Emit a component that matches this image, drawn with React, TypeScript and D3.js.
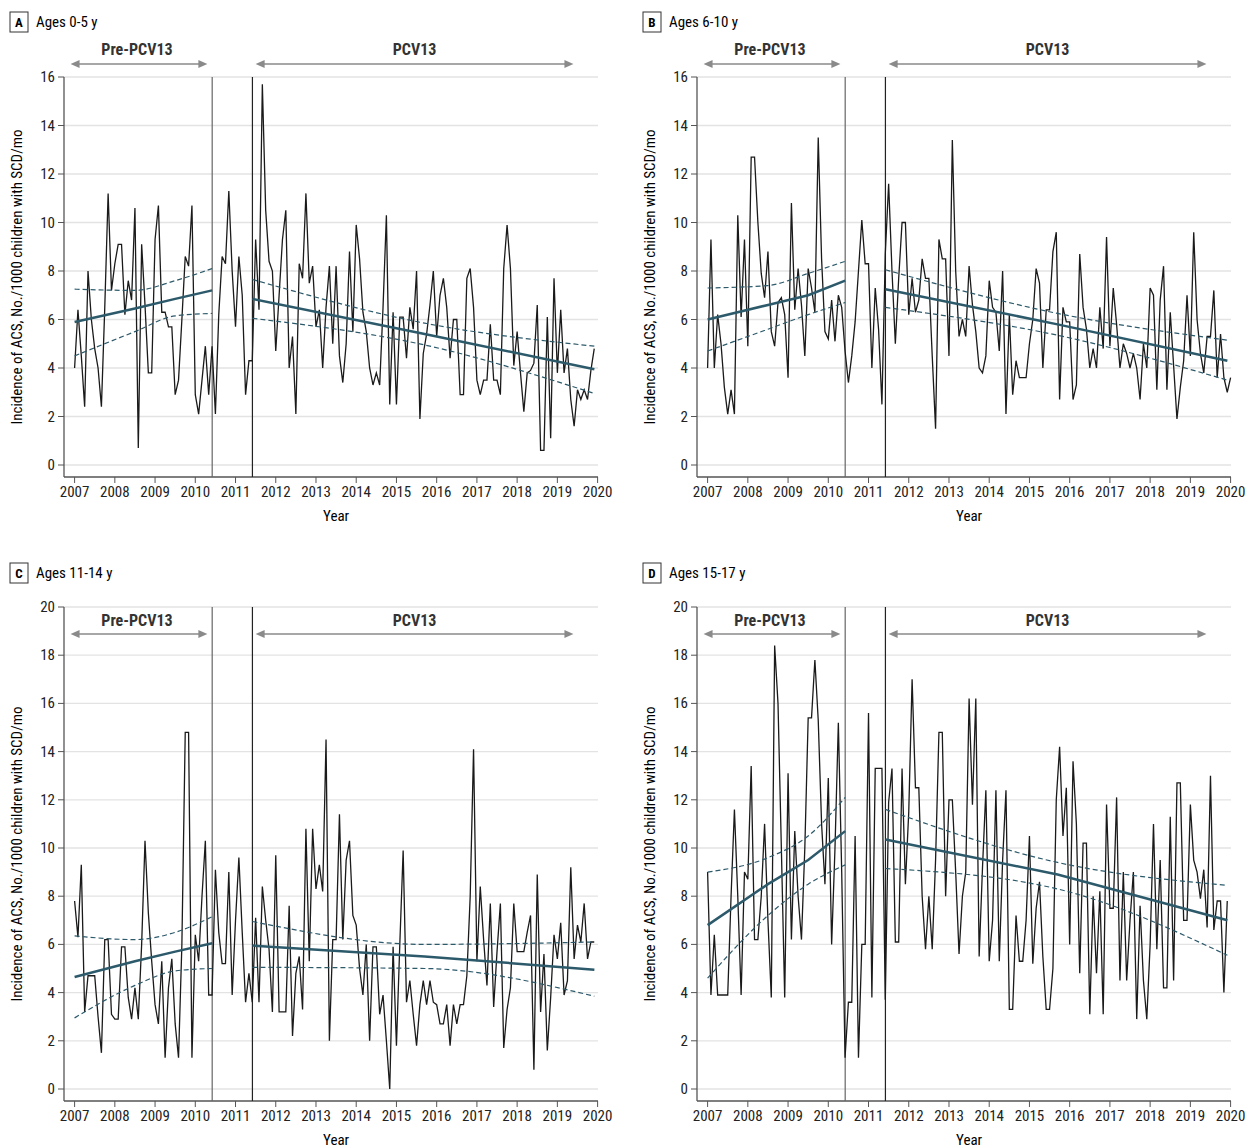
import React from "react";
import * as d3 from "d3";

// monthly incidence, Jan 2007 onward
const ages0to5 = [
  4.0, 6.4, 4.5, 2.4, 8.0, 6.0, 4.8, 4.0, 2.4, 6.5,
  11.2, 7.2, 8.3, 9.1, 9.1, 6.2, 7.6, 6.8, 10.6, 0.7,
  9.1, 6.6, 3.8, 3.8, 9.3, 10.7, 6.3, 6.3, 5.7, 5.7,
  2.9, 3.5, 6.0, 8.6, 8.2, 10.7, 2.9, 2.1, 3.5, 4.9,
  2.9, 4.9, 2.1, 6.2, 8.6, 8.3, 11.3, 8.0, 5.7, 8.6,
  7.0, 2.9, 4.3, 4.3, 9.3, 6.4, 15.7, 10.5, 8.4, 8.0,
  4.7, 7.0, 9.3, 10.5, 4.0, 5.3, 2.1, 8.3, 7.7, 11.2,
  7.5, 8.2, 5.7, 6.4, 4.0, 6.5, 8.2, 5.0,
  8.2, 4.5, 3.4, 5.0, 8.8, 5.5, 9.9, 8.5, 6.3, 5.5,
  4.0, 3.3, 3.8, 3.3, 6.5, 10.3, 2.5, 6.3, 2.5, 6.1,
  6.1, 4.4, 6.5, 5.6, 8.0, 1.9, 4.6, 5.4, 6.6, 8.0,
  5.3, 7.0, 7.7, 6.5, 4.4, 6.0, 6.0, 2.9, 2.9, 7.7,
  8.1, 6.5, 3.5, 2.9, 3.5, 3.5, 5.8, 3.5, 3.5, 2.9,
  8.1, 9.9, 8.1, 4.1, 5.5, 3.8, 2.2, 3.8, 3.9, 4.2,
  6.6, 0.6, 0.6, 6.1, 1.1, 7.7, 3.8, 6.4, 3.8, 4.8,
  2.7, 1.6, 3.1, 2.7, 3.1, 2.7, 3.9, 4.8,
];

const ages6to10 = [
  4.0, 9.3, 4.0, 6.2, 5.0, 3.2, 2.1, 3.1, 2.1, 10.3,
  6.1, 9.3, 4.9, 12.7, 12.7, 10.0, 7.9, 6.9, 8.8, 5.5,
  4.9, 6.7, 6.9, 6.2, 3.6, 10.8, 6.4, 8.1, 6.6, 4.5,
  8.1, 7.3, 6.3, 13.5, 8.5, 5.5, 5.2, 6.8, 5.1, 7.0,
  6.5, 4.7, 3.4, 4.5, 5.9, 8.0, 10.1, 8.3, 8.3, 4.0,
  7.3, 5.6, 2.5, 8.7, 11.6, 8.0, 5.0, 7.7, 10.0, 10.0,
  6.2, 7.7, 6.3, 6.8, 8.5, 7.7, 7.7, 4.5, 1.5, 9.3,
  8.5, 8.5, 4.5, 13.4, 8.0, 5.3, 6.0, 5.3, 8.2, 6.6,
  5.5, 4.0, 3.8, 4.5, 7.6, 6.5, 6.3, 4.7, 8.0, 2.1,
  6.2, 2.9, 4.3, 3.6, 3.6, 3.6, 5.0, 6.0, 8.1, 7.5,
  4.0, 6.4, 6.4, 8.8, 9.6, 2.7, 6.5, 5.9, 5.9, 2.7,
  3.3, 8.7, 6.5, 5.6, 4.0, 4.8, 4.0, 6.5, 4.8, 9.4,
  4.9, 7.3, 5.8, 4.0, 5.0, 4.6, 4.0, 4.6, 4.0, 2.7,
  5.0, 4.0, 7.3, 7.0, 3.1, 6.8, 8.2, 3.1, 6.3, 4.1,
  1.9, 3.2, 4.3, 7.0, 4.5, 9.6, 6.0, 4.6, 3.8, 5.3,
  5.3, 7.2, 3.6, 5.4, 3.6, 3.0, 3.6,
];

const ages11to14 = [
  7.8, 6.3, 9.3, 3.2, 4.7, 4.7, 4.7, 3.0, 1.5, 6.2,
  6.2, 3.1, 2.9, 2.9, 5.9, 5.9, 3.8, 2.9, 4.2, 2.9,
  6.0, 10.3, 7.3, 5.3, 3.5, 2.7, 5.3, 1.3, 4.2, 5.4,
  2.7, 1.3, 6.0, 14.8, 14.8, 1.3, 6.4, 5.3, 8.0, 10.3,
  3.9, 3.9, 9.1, 6.5, 5.2, 5.2, 9.0, 3.9, 7.0, 9.6,
  6.5, 3.6, 4.8, 3.6, 7.1, 3.6, 8.4, 7.0, 5.8, 3.2,
  9.7, 3.2, 3.2, 3.2, 7.6, 2.2, 4.8, 5.5, 3.3, 10.8,
  5.3, 10.8, 8.3, 9.3, 8.2, 14.5, 2.0, 6.2, 6.2, 11.4,
  6.2, 9.5, 10.3, 7.2, 6.8, 5.0, 3.9, 6.0, 2.0, 5.9,
  5.9, 3.1, 3.9, 2.0, 0.0, 5.9, 1.8, 6.0, 9.9, 3.6,
  4.5, 3.1, 1.8, 3.5, 4.5, 3.5, 4.5, 3.6, 3.5, 2.7,
  2.7, 3.5, 1.8, 3.5, 2.7, 3.5, 3.5, 4.7, 8.0, 14.1,
  5.3, 8.4, 6.2, 4.3, 7.7, 3.4, 5.7, 7.7, 1.7, 3.3,
  4.2, 7.7, 5.7, 5.7, 5.7, 6.5, 7.2, 0.8, 8.9, 3.2,
  5.6, 1.6, 3.8, 6.4, 5.4, 6.9, 3.9, 4.5, 9.2, 5.4,
  6.8, 6.1, 7.7, 5.4, 6.1, 6.1,
];

const ages15to17 = [
  9.0, 3.9, 6.4, 3.9, 3.9, 3.9, 3.9, 8.0, 11.6, 8.0,
  3.9, 9.0, 8.7, 13.4, 6.2, 6.2, 8.0, 11.0, 7.0, 3.8,
  18.4, 16.0, 10.0, 3.8, 13.1, 6.2, 10.7, 8.0, 6.2, 10.0,
  15.4, 15.4, 17.8, 15.3, 11.0, 8.5, 12.9, 6.0, 10.0, 15.2,
  9.0, 1.3, 3.6, 3.6, 10.5, 1.3, 6.0, 6.0, 15.6, 3.8,
  13.3, 13.3, 13.3, 3.7, 11.9, 13.3, 6.1, 6.1, 13.3, 8.5,
  11.5, 17.0, 12.5, 12.5, 8.0, 5.8, 8.0, 5.8, 9.5, 14.8,
  14.8, 8.0, 12.0, 12.0, 9.0, 5.6, 8.0, 9.0, 16.2, 11.8,
  16.2, 5.5, 9.2, 12.4, 5.3, 7.0, 12.4, 5.3, 9.5, 12.4,
  3.3, 3.3, 7.2, 5.3, 5.3, 7.0, 10.5, 5.2, 7.5, 8.6,
  5.5, 3.3, 3.3, 5.0, 12.0, 14.2, 10.5, 12.5, 6.0, 13.6,
  11.0, 4.8, 10.2, 10.2, 3.1, 8.0, 4.8, 8.2, 3.1, 11.8,
  7.5, 7.5, 12.1, 4.5, 9.0, 4.5, 7.0, 9.0, 2.9, 7.6,
  4.5, 2.9, 6.0, 11.0, 5.8, 9.5, 4.2, 4.2, 11.3, 4.5,
  12.7, 12.7, 7.0, 7.0, 11.8, 9.5, 9.0, 7.9, 9.1, 6.7,
  13.0, 6.6, 7.8, 7.8, 4.0, 7.8,
];

// segmented regression fits: [fit, lower, upper] at each time
const fitTimes = [2007, 2008.5, 2009.5, 2010.42];
const postTimes = [2011.42, 2015.7, 2019.92];
const preFitA = [[5.9, 4.5, 7.25], [6.45, 5.5, 7.2], [6.85, 6.15, 7.6], [7.2, 6.25, 8.1]];
const postFitA = [[6.85, 6.05, 7.65], [5.4, 4.95, 5.85], [3.95, 2.95, 4.9]];
const preFitB = [[6.0, 4.7, 7.3], [6.6, 5.6, 7.4], [7.0, 6.2, 7.9], [7.6, 6.7, 8.4]];
const postFitB = [[7.25, 6.5, 8.05], [5.8, 5.35, 6.25], [4.3, 3.5, 5.15]];
const preFitC = [[4.65, 2.95, 6.35], [5.3, 4.3, 6.2], [5.7, 4.9, 6.5], [6.05, 5.0, 7.15]];
const postFitC = [[5.95, 5.05, 6.95], [5.5, 5.0, 6.0], [4.95, 3.85, 6.1]];
const preFitD = [[6.8, 4.6, 9.0], [8.5, 7.2, 9.6], [9.5, 8.5, 10.5], [10.7, 9.3, 12.1]];
const postFitD = [[10.35, 9.15, 11.6], [8.9, 8.3, 9.4], [7.0, 5.55, 8.45]];

const yearTicks = d3.range(2007, 2021);
const breakYears = [2010.42, 2011.42];

const FONT = "'Liberation Sans Narrow', 'Roboto Condensed', 'Open Sans', sans-serif";
const TEAL = "#2d5a6b";

type PanelProps = {
  letter: string;
  title: string;
  data: number[];
  pre: number[][];
  post: number[][];
  yMax: number;
  left: number;
  top: number; // y of top gridline
  bottom: number; // y of zero gridline
};

function Panel({ letter, title, data, pre, post, yMax, left, top, bottom }: PanelProps) {
  const x = d3.scaleLinear().domain([2007, 2020]).range([left + 10.6, left + 533.6]);
  const y = d3.scaleLinear().domain([0, yMax]).range([bottom, top]);
  const axisY = bottom + 12;
  const line = d3.line<[number, number]>().x((d) => x(d[0])).y((d) => y(d[1]));
  const smooth = d3.line<[number, number]>().x((d) => x(d[0])).y((d) => y(d[1])).curve(d3.curveMonotoneX);
  const series: [number, number][] = data.map((v, i) => [2007 + i / 12, v]);
  const yTicks = d3.range(0, yMax + 1, 2);
  const inside = yMax === 20;
  const labY = inside ? top + 14 : top - 27;
  const arrY = inside ? top + 27 : top - 13;
  const fitLines = (times: number[], fits: number[][]) => [0, 1, 2].map((k) => (
    <path
      key={k}
      d={(k === 0 ? line : smooth)(times.map((t, j) => [t, fits[j][k]]))!}
      fill="none"
      stroke={TEAL}
      strokeWidth={k === 0 ? 2.5 : 1.2}
      strokeDasharray={k === 0 ? undefined : "5,3"}
    />
  ));
  const arrow = (x1: number, x2: number, key: string) => (
    <g key={key} stroke="#8a8a8a" fill="#8a8a8a">
      <line x1={x1 + 4} x2={x2 - 4} y1={arrY} y2={arrY} strokeWidth={1.3} />
      <path d={`M${x1},${arrY}l9,-4l0,8z`} stroke="none" />
      <path d={`M${x2},${arrY}l-9,-4l0,8z`} stroke="none" />
    </g>
  );
  const titleY = inside ? top - 34 : top - 55;
  return (
    <g fontFamily={FONT}>
      <rect x={left - 54} y={titleY - 10} width={18} height={20} fill="white" stroke="#333" strokeWidth={1} />
      <text x={left - 45} y={titleY + 5} textAnchor="middle" fontSize={13} fontWeight="bold">{letter}</text>
      <text x={left - 28} y={titleY + 5} fontSize={15}>{title}</text>
      {yTicks.map((t) => (
        <g key={t}>
          <line x1={left} x2={left + 534} y1={y(t)} y2={y(t)} stroke="#e3e3e3" strokeWidth={1.3} />
          <line x1={left - 6} x2={left} y1={y(t)} y2={y(t)} stroke="#555" />
          <text x={left - 9} y={y(t) + 5} textAnchor="end" fontSize={15} fill="#222">{t}</text>
        </g>
      ))}
      <line x1={left} x2={left} y1={top} y2={axisY} stroke="#555" strokeWidth={1.3} />
      <line x1={left} x2={left + 534} y1={axisY} y2={axisY} stroke="#555" strokeWidth={1.3} />
      {yearTicks.map((t) => (
        <g key={t}>
          <line x1={x(t)} x2={x(t)} y1={axisY} y2={axisY + 6} stroke="#555" />
          <text x={x(t)} y={axisY + 20} textAnchor="middle" fontSize={15} fill="#222">{t}</text>
        </g>
      ))}
      <text x={x(2013.5)} y={axisY + 44} textAnchor="middle" fontSize={15}>Year</text>
      <text
        transform={`translate(${left - 42},${(top + axisY) / 2}) rotate(-90)`}
        textAnchor="middle"
        fontSize={15}
      >
        Incidence of ACS, No./1000 children with SCD/mo
      </text>
      {breakYears.map((b, i) => (
        <line key={b} x1={x(b)} x2={x(b)} y1={top} y2={axisY} stroke={i === 0 ? "#666" : "#222"} strokeWidth={1.2} />
      ))}
      <path d={line(series)!} fill="none" stroke="#1a1a1a" strokeWidth={1.3} />
      {fitLines(fitTimes, pre)}
      {fitLines(postTimes, post)}
      <text x={x(2008.55)} y={labY + 5} textAnchor="middle" fontSize={16} fontWeight="bold" fill="#333">Pre-PCV13</text>
      <text x={x(2015.45)} y={labY + 5} textAnchor="middle" fontSize={16} fontWeight="bold" fill="#333">PCV13</text>
      {arrow(x(2006.9), x(2010.3), "a")}
      {arrow(x(2011.5), x(2019.4), "b")}
    </g>
  );
}

export default function App() {
  return (
    <svg
      width={1254}
      height={1148}
      style={{ position: "absolute", left: 0, top: 0, background: "white" }}
    >
      <rect width={1254} height={1148} fill="white" />
      <Panel letter="A" title="Ages 0-5 y" data={ages0to5} pre={preFitA} post={postFitA} yMax={16} left={64} top={77} bottom={465} />
      <Panel letter="B" title="Ages 6-10 y" data={ages6to10} pre={preFitB} post={postFitB} yMax={16} left={697} top={77} bottom={465} />
      <Panel letter="C" title="Ages 11-14 y" data={ages11to14} pre={preFitC} post={postFitC} yMax={20} left={64} top={607} bottom={1089} />
      <Panel letter="D" title="Ages 15-17 y" data={ages15to17} pre={preFitD} post={postFitD} yMax={20} left={697} top={607} bottom={1089} />
    </svg>
  );
}
